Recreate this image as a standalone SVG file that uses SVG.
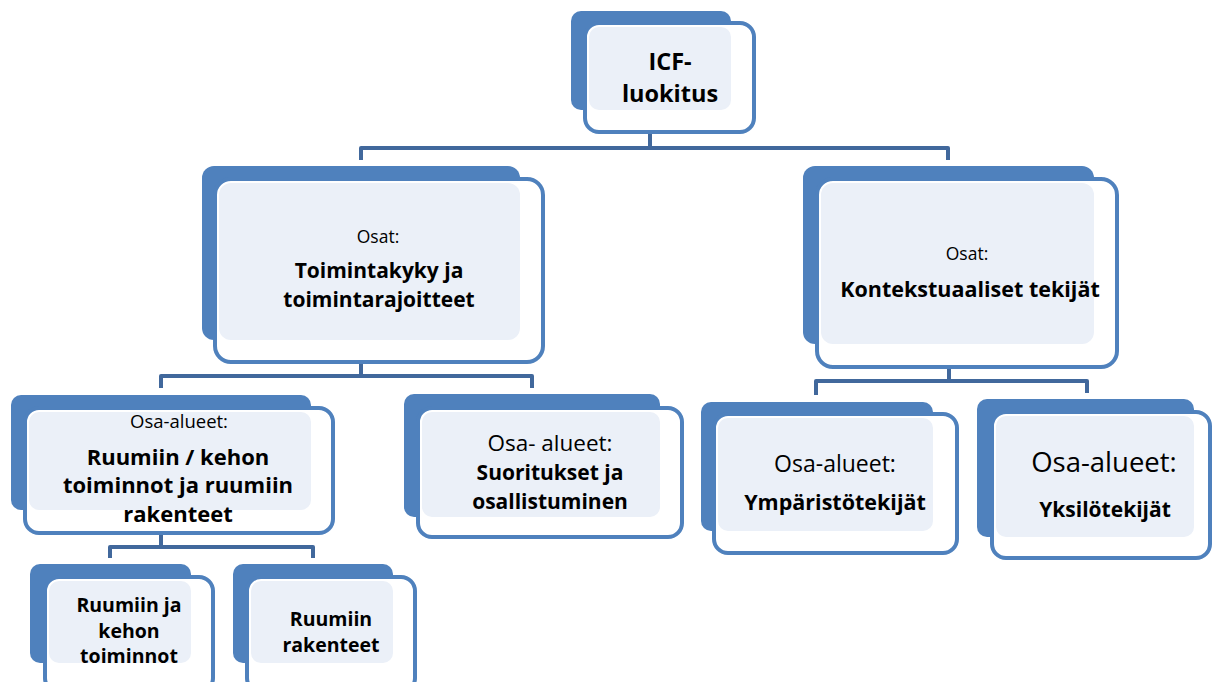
<svg xmlns="http://www.w3.org/2000/svg" width="1213" height="682" viewBox="0 0 1213 682">
<style>
.back{fill:#4F81BD;}
.front{fill:#FFFFFF;stroke:#4F81BD;stroke-width:4;}
.light{fill:#EBF0F8;}
.conn{fill:none;stroke:#41689C;stroke-width:4;stroke-linejoin:round;}
.halo{fill:none;stroke:#E3E9F3;stroke-width:4;}
text{font-family:"Open Sans","Liberation Sans",sans-serif;fill:#000;text-anchor:middle;}
.b{font-weight:bold;}
</style>
<rect width="1213" height="682" fill="#FFFFFF"/>
<g id="connectors">
<path class="halo" d="M650,111 V130 M361,341 V360 M949,345 V365 M161,511 V531"/>
<path class="conn" d="M650,132 V148 M361,160 V148 H948 V160"/>
<path class="conn" d="M361,362 V376 M161,388 V376 H532 V388"/>
<path class="conn" d="M949,367 V381 M816,395 V381 H1087 V393"/>
<path class="conn" d="M161,533 V547 M110,558 V547 H313 V558"/>
</g>
<g id="node-icf">
<rect class="back" x="571" y="11" width="160" height="99" rx="10"/>
<rect class="front" x="585" y="23" width="169" height="109" rx="14"/>
<rect class="light" x="589" y="27" width="142" height="83" rx="10"/>
<text class="b" x="670" y="70" font-size="23.5">ICF-</text>
<text class="b" x="670" y="102" font-size="23.5">luokitus</text>
</g>
<g id="node-toimintakyky">
<rect class="back" x="202" y="166" width="318" height="174" rx="12"/>
<rect class="front" x="215" y="179" width="328" height="183" rx="16"/>
<rect class="light" x="219" y="183" width="301" height="157" rx="12"/>
<text x="378" y="243" font-size="17.5">Osat:</text>
<text class="b" x="379" y="278" font-size="21">Toimintakyky ja</text>
<text class="b" x="379" y="307" font-size="21">toimintarajoitteet</text>
</g>
<g id="node-kontekstuaaliset">
<rect class="back" x="803" y="166" width="291" height="178" rx="12"/>
<rect class="front" x="817" y="179" width="300" height="188" rx="16"/>
<rect class="light" x="821" y="183" width="273" height="161" rx="12"/>
<text x="967" y="260" font-size="17.5">Osat:</text>
<text class="b" x="970" y="297" font-size="21.5">Kontekstuaaliset tekijät</text>
</g>
<g id="node-ruumiin-kehon">
<rect class="back" x="11" y="395" width="300" height="115" rx="10"/>
<rect class="front" x="25" y="408" width="308" height="125" rx="14"/>
<rect class="light" x="29" y="412" width="282" height="98" rx="10"/>
<text x="179" y="428" font-size="18.5">Osa-alueet:</text>
<text class="b" x="178" y="465" font-size="22">Ruumiin / kehon</text>
<text class="b" x="178" y="493" font-size="22">toiminnot ja ruumiin</text>
<text class="b" x="178" y="522" font-size="22">rakenteet</text>
</g>
<g id="node-suoritukset">
<rect class="back" x="404" y="394" width="256" height="123" rx="10"/>
<rect class="front" x="418" y="408" width="264" height="129" rx="14"/>
<rect class="light" x="422" y="412" width="238" height="105" rx="10"/>
<text x="550" y="451" font-size="22.5">Osa- alueet:</text>
<text class="b" x="550" y="480" font-size="21">Suoritukset ja</text>
<text class="b" x="550" y="509" font-size="21">osallistuminen</text>
</g>
<g id="node-ymparisto">
<rect class="back" x="701" y="402" width="232" height="129" rx="10"/>
<rect class="front" x="714" y="414" width="243" height="139" rx="14"/>
<rect class="light" x="718" y="418" width="215" height="113" rx="10"/>
<text x="835" y="472" font-size="23">Osa-alueet:</text>
<text class="b" x="835" y="510" font-size="21.5">Ympäristötekijät</text>
</g>
<g id="node-yksilo">
<rect class="back" x="977" y="399" width="217" height="138" rx="10"/>
<rect class="front" x="992" y="412" width="218" height="146" rx="14"/>
<rect class="light" x="996" y="416" width="198" height="121" rx="10"/>
<text x="1104" y="472" font-size="27.5">Osa-alueet:</text>
<text class="b" x="1105" y="517" font-size="21">Yksilötekijät</text>
</g>
<g id="node-kehon-toiminnot">
<rect class="back" x="30" y="564" width="161" height="99" rx="10"/>
<rect class="front" x="45" y="577" width="168" height="115" rx="14"/>
<rect class="light" x="49" y="581" width="142" height="82" rx="10"/>
<text class="b" x="129" y="612" font-size="19.5">Ruumiin ja</text>
<text class="b" x="129" y="638" font-size="19.5">kehon</text>
<text class="b" x="129" y="663" font-size="19.5">toiminnot</text>
</g>
<g id="node-rakenteet">
<rect class="back" x="233" y="564" width="160" height="99" rx="10"/>
<rect class="front" x="247" y="577" width="168" height="115" rx="14"/>
<rect class="light" x="251" y="581" width="142" height="82" rx="10"/>
<text class="b" x="331" y="626" font-size="19.5">Ruumiin</text>
<text class="b" x="331" y="652" font-size="19.5">rakenteet</text>
</g>
</svg>
